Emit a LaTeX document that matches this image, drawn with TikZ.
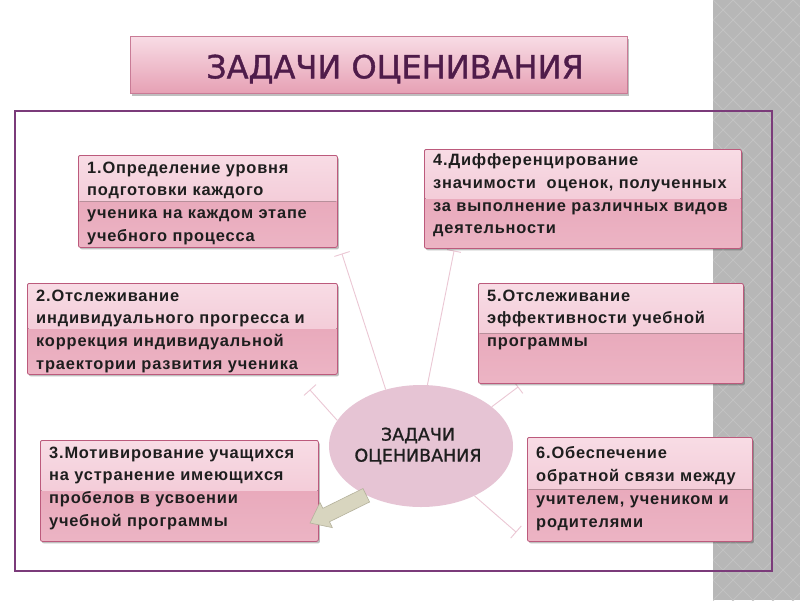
\documentclass[tikz,border=0pt]{standalone}
\usepackage{fontspec}
\setmainfont{Liberation Sans}
\newfontfamily\titlefont[FakeBold=1.2]{DejaVu Sans}
\newfontfamily\boxfont[LetterSpace=5]{Liberation Sans}
\usetikzlibrary{shadows,calc,shapes.geometric}
\definecolor{bandgray}{HTML}{B7B7B7}
\definecolor{bandline}{HTML}{C4C4C4}
\definecolor{framecol}{HTML}{7B3B7A}
\definecolor{boxline}{HTML}{BC5A7C}
\definecolor{boxtopA}{HTML}{F8DCE5}
\definecolor{boxtopB}{HTML}{EFBDCC}
\definecolor{boxlowA}{HTML}{E6A0B4}
\definecolor{boxlowB}{HTML}{ECB4C4}
\definecolor{ellcol}{HTML}{E6C4D4}
\definecolor{conncol}{HTML}{EBC7D4}
\definecolor{titlecol}{HTML}{4F1C4A}
\definecolor{arrowfill}{HTML}{D8D5BF}
\definecolor{arrowedge}{HTML}{B5B29C}
\definecolor{textcol}{HTML}{1E1E1E}
\tikzset{
  taskbox/.style={draw=boxline, line width=0.8pt, rounded corners=2pt,
    anchor=north west, inner sep=0pt,
    bottom color=boxlowB, top color=boxlowA,
    drop shadow={shadow xshift=1.5pt, shadow yshift=-2pt, opacity=0.25, fill=black},
    path picture={\fill[top color=boxtopA, bottom color=boxtopB]
      (path picture bounding box.north west) rectangle (path picture bounding box.east);}},
  tasktext/.style={anchor=north west, inner sep=0pt, align=left, text=textcol,
    font=\boxfont\bfseries\fontsize{16.4}{22.8}\selectfont},
  conn/.style={draw=conncol, line width=0.9pt},
}
\begin{document}
\begin{tikzpicture}[x=1pt,y=-1pt]
\useasboundingbox (0,0) rectangle (800,600);
\fill[white] (0,0) rectangle (800,600);
% gray band
\begin{scope}
  \clip (713,0) rectangle (800,600);
  \fill[bandgray] (713,0) rectangle (800,600);
  \foreach \i in {-120,-100,...,720} {
    \draw[bandline, line width=0.7pt] (713,\i) -- ++(120,120);
    \draw[bandline, line width=0.7pt] (713,\i) -- ++(120,-120);
  }
\end{scope}
% title
\node[draw=boxline!80, line width=0.8pt, anchor=north west, inner sep=0pt,
  minimum width=497pt, minimum height=57pt,
  top color=boxtopA, bottom color=boxlowA,
  drop shadow={shadow xshift=1.5pt, shadow yshift=-2.5pt, opacity=0.25, fill=black}]
  (tbox) at (130,36) {};
\node[text=titlecol, font=\titlefont\fontsize{32}{36}\selectfont, inner sep=0pt]
  (title) at (395,69) {ЗАДАЧИ ОЦЕНИВАНИЯ};
% frame
\draw[framecol, line width=2.5pt] (15,111) rectangle (772,571);
% ellipse
\node[ellipse, fill=ellcol, minimum width=184pt, minimum height=122pt, inner sep=0pt]
  (e) at (421,446) {};
% connectors
\coordinate (c1) at (342,254);
\coordinate (c2) at (310,390);
\coordinate (c4) at (454,251);
\coordinate (c5) at (518,387);
\coordinate (c6) at (516,532);
\draw[conn] (e.122) -- (c1);
\draw[conn] (e.163) -- (c2);
\draw[conn] (e.84) -- (c4);
\draw[conn] (e.29) -- (c5);
\draw[conn] (e.-43) -- (c6);
\draw[conn] ($(c1)!8pt!90:(e.122)$) -- ($(c1)!8pt!-90:(e.122)$);
\draw[conn] ($(c2)!8pt!90:(e.163)$) -- ($(c2)!8pt!-90:(e.163)$);
\draw[conn] ($(c4)!7pt!90:(e.84)$) -- ($(c4)!7pt!-90:(e.84)$);
\draw[conn] ($(c5)!8pt!90:(e.29)$) -- ($(c5)!8pt!-90:(e.29)$);
\draw[conn] ($(c6)!8pt!90:(e.-43)$) -- ($(c6)!8pt!-90:(e.-43)$);
\node[align=center, text=textcol, font=\titlefont\fontsize{17.5}{21}\selectfont, inner sep=0pt]
  (etext) at (418,446) {ЗАДАЧИ\\ОЦЕНИВАНИЯ};
% boxes
\node[taskbox, minimum width=259pt, minimum height=92pt] (b1) at (78,155) {};
\node[taskbox, minimum width=310pt, minimum height=91pt] (b2) at (27,283) {};
\node[taskbox, minimum width=278pt, minimum height=101pt] (b3) at (40,440) {};
\node[taskbox, minimum width=317pt, minimum height=99pt] (b4) at (424,149) {};
\node[taskbox, minimum width=265pt, minimum height=100pt] (b5) at (478,283) {};
\node[taskbox, minimum width=225pt, minimum height=104pt] (b6) at (527,437) {};
\node[tasktext] (t1) at ($(b1.north west)+(9,6.5)$) {1.Определение уровня\\подготовки каждого\\ученика на каждом этапе\\учебного процесса};
\node[tasktext] (t2) at ($(b2.north west)+(9,6.5)$) {2.Отслеживание\\индивидуального прогресса и\\коррекция индивидуальной\\траектории развития ученика};
\node[tasktext] (t3) at ($(b3.north west)+(9,6.5)$) {3.Мотивирование учащихся\\на устранение имеющихся\\пробелов в усвоении\\учебной программы};
\node[tasktext] (t4) at ($(b4.north west)+(9,4.5)$) {4.Дифференцирование\\значимости\ \ оценок, полученных\\за выполнение различных видов\\деятельности};
\node[tasktext] (t5) at ($(b5.north west)+(9,6.5)$) {5.Отслеживание\\эффективности учебной\\программы};
\node[tasktext] (t6) at ($(b6.north west)+(9,9.5)$) {6.Обеспечение\\обратной связи между\\учителем, учеником и\\родителями};
% block arrow
\coordinate (aA) at (e.222);
\coordinate (aT) at (310,523);
\coordinate (aH) at ($(aT)!18pt!(aA)$);
\draw[arrowedge, fill=arrowfill, line width=0.6pt]
  ($(aA)!7.5pt!90:(aT)$) -- ($(aH)!7.5pt!-90:(aA)$) -- ($(aH)!14pt!-90:(aA)$) -- (aT)
  -- ($(aH)!14pt!90:(aA)$) -- ($(aH)!7.5pt!90:(aA)$) -- ($(aA)!7.5pt!-90:(aT)$) -- cycle;
\end{tikzpicture}
\end{document}
